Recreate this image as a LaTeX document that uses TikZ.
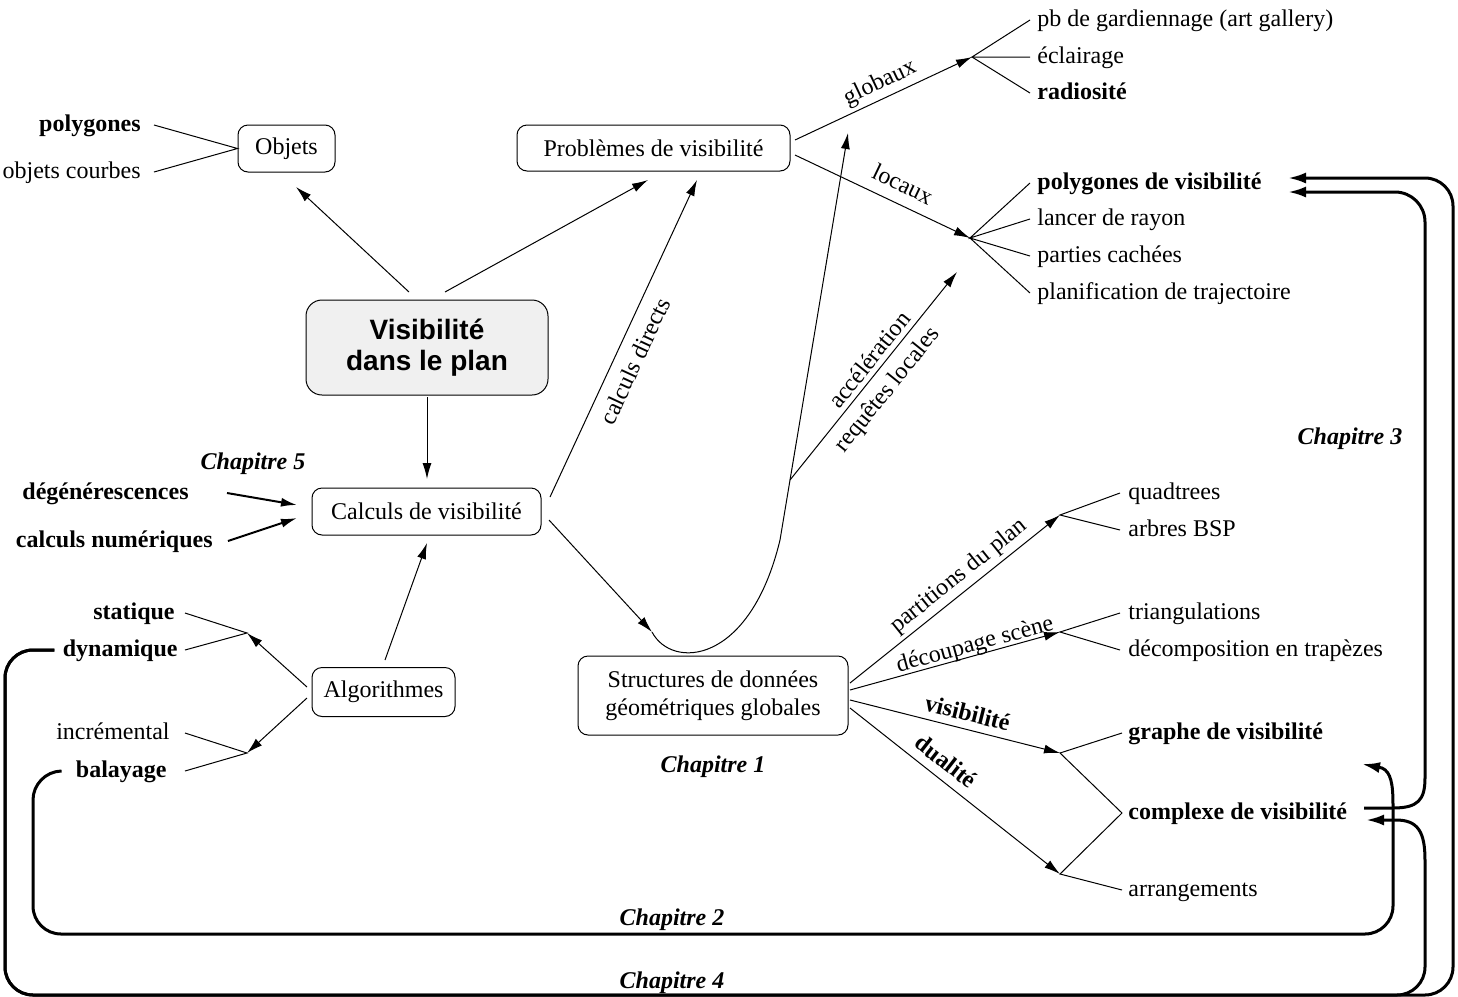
\documentclass[tikz,border=0pt]{standalone}
\usepackage{fontspec}
\setmainfont{Liberation Serif}
\newfontfamily\hvfont{Liberation Sans}
\usetikzlibrary{arrows.meta}
\begin{document}
\begin{tikzpicture}[x=0.5pt,y=-0.5pt,
  every node/.style={font=\fontsize{12}{14}\selectfont},
  box/.style={draw, line width=0.5pt, rounded corners=5pt, inner sep=0pt, align=center},
  txt/.style={inner sep=0pt, text height=8.5pt, text depth=2.5pt},
  bf/.style={font=\fontsize{12}{14}\selectfont\bfseries},
  chap/.style={font=\fontsize{12}{14}\selectfont\bfseries\itshape},
  ln/.style={line width=0.5pt},
  arr/.style={line width=0.5pt, -{Latex[length=8pt,width=4.5pt]}},
  marr/.style={line width=1pt, -{Latex[length=8pt,width=4.5pt]}},
  thk/.style={line width=1.5pt},
  barr/.style={line width=1.5pt, -{Latex[length=9pt,width=5.5pt]}},
]
\useasboundingbox (0,0) rectangle (1458,997);

% boxes
\node[box, minimum width=48.5pt, minimum height=23.5pt] (obj) at (286.5,148.5) {Objets};
\node[box, minimum width=136.5pt, minimum height=23pt] (prob) at (653.5,148) {Problèmes de visibilité};
\node[box, fill=gray!12, rounded corners=8pt, minimum width=121pt, minimum height=47.5pt,
      font=\fontsize{14}{15.5}\selectfont\hvfont\bfseries] (vis) at (427,347.5) {Visibilité\\dans le plan};
\node[box, minimum width=114.5pt, minimum height=23.5pt] (calc) at (426.5,511.5) {Calculs de visibilité};
\node[box, minimum width=71.5pt, minimum height=24.5pt] (algo) at (383.5,692) {Algorithmes};
\node[box, minimum width=135pt, minimum height=39.5pt] (struct) at (713,695.5) {Structures de données\\géométriques globales};

% left labels
\node[txt,bf,anchor=east] (poly) at (141,125) {polygones};
\node[txt,anchor=east] (oc) at (141,172) {objets courbes};
\node[txt,chap] (ch5) at (253,463) {Chapitre 5};
\node[txt,bf,anchor=east] (deg) at (189,493) {dégénérescences};
\node[txt,bf,anchor=east] (num) at (213,541) {calculs numériques};
\node[txt,bf,anchor=east] (stat) at (175,613) {statique};
\node[txt,bf,anchor=east] (dyn) at (178,650) {dynamique};
\node[txt,anchor=east] (incr) at (170,733) {incrémental};
\node[txt,bf,anchor=east] (bal) at (167,771) {balayage};

% right labels
\node[txt,anchor=west] (pb) at (1037,20) {pb de gardiennage (art gallery)};
\node[txt,anchor=west] (ecl) at (1037,57) {éclairage};
\node[txt,bf,anchor=west] (rad) at (1037,93) {radiosité};
\node[txt,bf,anchor=west] (pvis) at (1037,183) {polygones de visibilité};
\node[txt,anchor=west] (lanc) at (1037,219) {lancer de rayon};
\node[txt,anchor=west] (parc) at (1037,256) {parties cachées};
\node[txt,anchor=west] (plan) at (1037,293) {planification de trajectoire};
\node[txt,anchor=west] (quad) at (1128,493) {quadtrees};
\node[txt,anchor=west] (bsp) at (1128,530) {arbres BSP};
\node[txt,anchor=west] (tri) at (1128,613) {triangulations};
\node[txt,anchor=west] (trap) at (1128,650) {décomposition en trapèzes};
\node[txt,bf,anchor=west] (gv) at (1128,733) {graphe de visibilité};
\node[txt,bf,anchor=west] (cv) at (1128,813) {complexe de visibilité};
\node[txt,anchor=west] (arrg) at (1128,890) {arrangements};

% chapters
\node[txt,chap] (ch1) at (713,766) {Chapitre 1};
\node[txt,chap] (ch2) at (672,919) {Chapitre 2};
\node[txt,chap] (ch3) at (1350,438) {Chapitre 3};
\node[txt,chap] (ch4) at (672,982) {Chapitre 4};

% edge labels
\node[txt,rotate=25.4] (lglob) at (880,83) {globaux};
\node[txt,rotate=-25.6] (lloc) at (902,186) {locaux};
\node[txt,rotate=65.1] (ldir) at (637,362) {calculs directs};
\node[txt,rotate=51.2] (lacc) at (871,361) {accélération};
\node[txt,rotate=51.2] (lreq) at (888,390) {requêtes locales};
\node[txt,rotate=38.8] (lpart) at (959,576) {partitions du plan};
\node[txt,rotate=15.3] (ldec) at (975,645) {découpage scène};
\node[txt,bf,rotate=-14] (lvis) at (967,715) {visibilité};
\node[txt,bf,rotate=-38] (ldua) at (945,763) {dualité};

% coordinates
\coordinate (vo) at (409,292);  \coordinate (ot) at (296,187);
\coordinate (vp) at (445,292);  \coordinate (pt) at (648,180);
\coordinate (vc) at (427,397);  \coordinate (ct) at (427,479);
\coordinate (dt) at (297,505);  \coordinate (nt) at (297,518);
\coordinate (ac) at (385,660);  \coordinate (act) at (427,543);
\coordinate (a1) at (307,687);  \coordinate (ap1) at (247,633);
\coordinate (a2) at (307,698);  \coordinate (ap2) at (247,753);
\coordinate (cd) at (550,497);  \coordinate (cdt) at (697,180);
\coordinate (cs) at (549,520);  \coordinate (cst) at (652,632);
\coordinate (cu) at (780,540);  \coordinate (br) at (790,480);
\coordinate (ut) at (848,133);  \coordinate (bt) at (957,272);
\coordinate (pg) at (795,140);  \coordinate (gA) at (972,57);
\coordinate (pl) at (795,155);  \coordinate (lA) at (970,238);
\coordinate (s1) at (850,683);  \coordinate (pA) at (1060,515);
\coordinate (s2) at (850,690);  \coordinate (dA) at (1060,632);
\coordinate (s3) at (850,700);  \coordinate (vA) at (1060,753);
\coordinate (s4) at (850,708);  \coordinate (duA) at (1060,874);
\coordinate (c2m) at (1393,805);
\coordinate (c2t) at (1362,764);
\coordinate (c4m) at (1425,860);
\coordinate (c4t) at (1366,820);
\coordinate (p4t) at (1288,178);
\coordinate (c3s) at (1364,808);
\coordinate (p3t) at (1288,192);

% thin connectors
\draw[arr] (vo) -- (ot);
\draw[arr] (vp) -- (pt);
\draw[arr] (vc) -- (ct);
\draw[ln] ([xshift=6.5pt]poly.east) -- (obj.west) -- ([xshift=6.5pt]oc.east);
\draw[marr] ([xshift=19pt]deg.east) -- (dt);
\draw[marr] ([xshift=7.5pt]num.east) -- (nt);
\draw[arr] (ac) -- (act);
\draw[arr] (a1) -- (ap1);
\draw[ln] ([xshift=5pt]stat.east) -- (ap1) -- ([xshift=3.5pt]dyn.east);
\draw[arr] (a2) -- (ap2);
\draw[ln] ([xshift=7.5pt]incr.east) -- (ap2) -- ([xshift=9pt]bal.east);
\draw[arr] (cd) -- (cdt);
\draw[arr] (cs) -- (cst);
\draw[arr] (cst) .. controls (672,670) and (750,665) .. (cu) -- (ut);
\draw[arr] (br) -- (bt);
\draw[arr] (pg) -- (gA);
\draw[ln] ([xshift=-3.5pt]pb.west) -- (gA) -- ([xshift=-3.5pt]ecl.west);
\draw[ln] (gA) -- ([xshift=-3.5pt]rad.west);
\draw[arr] (pl) -- (lA);
\draw[ln] ([xshift=-3.5pt]pvis.west) -- (lA) -- ([xshift=-3.5pt]lanc.west);
\draw[ln] ([xshift=-3.5pt]parc.west) -- (lA) -- ([xshift=-3.5pt]plan.west);
\draw[arr] (s1) -- (pA);
\draw[ln] ([xshift=-4pt]quad.west) -- (pA) -- ([xshift=-4pt]bsp.west);
\draw[arr] (s2) -- (dA);
\draw[ln] ([xshift=-4pt]tri.west) -- (dA) -- ([xshift=-4pt]trap.west);
\draw[arr] (s3) -- (vA);
\draw[arr] (s4) -- (duA);
\draw[ln] ([xshift=-3pt]gv.west) -- (vA) -- ([xshift=-3pt]cv.west) -- (duA) -- ([xshift=-3pt]arrg.west);

% thick chapter loops
% Chapitre 2
\draw[thk, rounded corners=14pt] ([xshift=-7pt]bal.west) -- (33,772) -- (33,934) -- (1393,934) -- (c2m);
\draw[barr] (c2m) .. controls (1393,784) and (1391,772) .. (1382,768) -- (c2t);
% Chapitre 4
\draw[thk, rounded corners=14pt] ([xshift=-4pt]dyn.west) -- (5,650) -- (5,995) -- (1425,995) -- (c4m);
\draw[barr] (c4m) .. controls (1425,832) and (1418,820) .. (1396,820) -- (c4t);
\draw[barr, rounded corners=14pt] ([xshift=-4pt]dyn.west) -- (5,650) -- (5,995) -- (1453,995) -- (1453,178) -- (p4t);
% Chapitre 3
\draw[thk] (c3s) -- (1393,808) .. controls (1418,808) and (1425,800) .. (1425,778);
\draw[barr, rounded corners=15pt] (1425,778) -- (1425,192) -- (p3t);
\end{tikzpicture}
\end{document}
